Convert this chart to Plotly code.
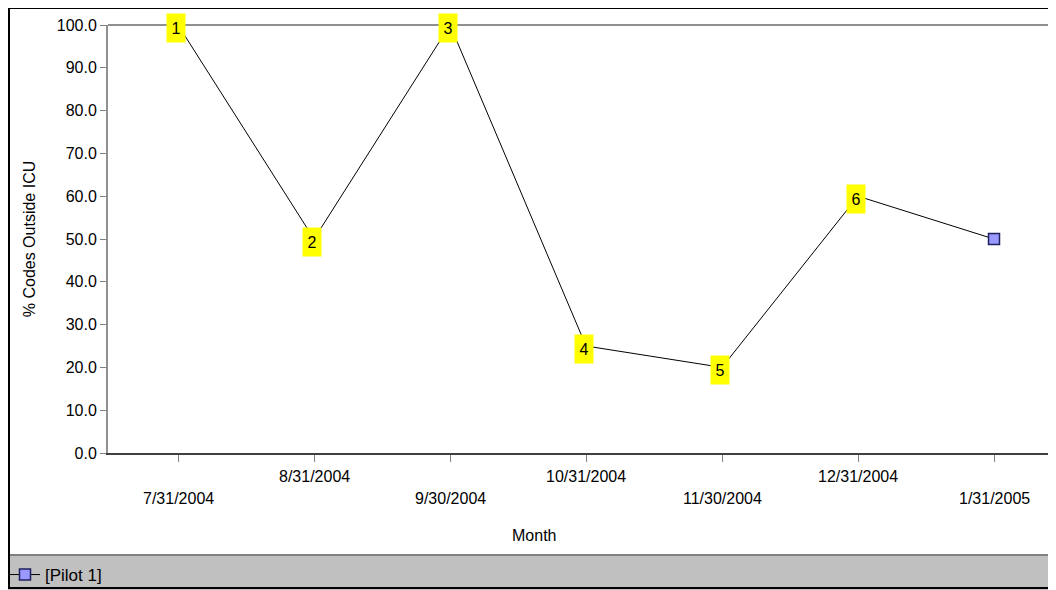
import plotly.graph_objects as go

months = ["7/31/2004", "8/31/2004", "9/30/2004", "10/31/2004", "11/30/2004", "12/31/2004", "1/31/2005"]
values = [100.0, 50.0, 100.0, 25.0, 20.0, 60.0, 50.0]
point_labels = ["1", "2", "3", "4", "5", "6", ""]
y_ticks = [0, 10, 20, 30, 40, 50, 60, 70, 80, 90, 100]
series_name = "[Pilot 1]"

# page body has an 8px margin; work in reference-screen pixel coordinates
OFF = 8
W, H = 1056 - OFF, 590 - OFF
PL, PR, PT, PB = 108, 1056, 25, 453  # plot area in screen pixels
L, T = PL - OFF, PT - OFF
R = 0
B = H - (PB - OFF)
pw, ph = W - L - R, H - T - B

def px_x(p):
    return (p - PL) / pw

def px_y(p):
    return (PB - p) / ph

FONT = "Liberation Sans, Arial, sans-serif"
FS = 16
xs = list(range(len(months)))

fig = go.Figure()
fig.add_trace(go.Scatter(
    x=xs, y=values, mode="lines+markers", name=series_name,
    line=dict(color="black", width=1),
    marker=dict(symbol="square", size=11, color="#9999ff",
                line=dict(color="#202060", width=1.5)),
    showlegend=True,
))

annotations = []
for i, (x, v, lab) in enumerate(zip(xs, values, point_labels)):
    if lab:
        annotations.append(dict(
            x=x, y=v, xref="x", yref="y", text=lab, showarrow=False,
            bgcolor="#ffff00", width=16, height=26, xshift=-2, yshift=-3,
            font=dict(family=FONT, size=FS, color="black"),
        ))
# alternating category labels
for i, m in enumerate(months):
    annotations.append(dict(
        x=xs[i], y=0, xref="x", yref="y", text=m, showarrow=False,
        yshift=-23 if i % 2 == 1 else -45, yanchor="middle",
        font=dict(family=FONT, size=FS, color="black"),
    ))
annotations.append(dict(
    x=px_x(534), y=px_y(535), xref="paper", yref="paper", text="Month",
    showarrow=False, yanchor="middle",
    font=dict(family=FONT, size=FS, color="black"),
))

shapes = [
    # legend strip
    dict(type="rect", xref="paper", yref="paper", x0=px_x(8), x1=px_x(1060),
         y0=px_y(592), y1=px_y(555), fillcolor="#c0c0c0",
         line=dict(width=0), layer="below"),
    dict(type="line", xref="paper", yref="paper", x0=px_x(8), x1=px_x(1060),
         y0=px_y(555), y1=px_y(555), line=dict(color="#808080", width=2)),
    # top line at 100
    dict(type="line", xref="paper", yref="paper", x0=0, x1=1,
         y0=1, y1=1, line=dict(color="#909090", width=2)),
    # outer frame
    dict(type="rect", xref="paper", yref="paper", x0=px_x(9), x1=px_x(1062),
         y0=px_y(588), y1=px_y(8), line=dict(color="black", width=2)),
]

fig.update_layout(
    width=W, height=H,
    margin=dict(l=L, r=R, t=T, b=B, autoexpand=False),
    paper_bgcolor="white", plot_bgcolor="white",
    font=dict(family=FONT, size=FS, color="black"),
    xaxis=dict(
        range=[-0.515, (1056 - 178) / 136.0], tickvals=xs, showticklabels=False,
        showgrid=False, zeroline=False, showline=True, linecolor="#404040",
        linewidth=2, ticks="outside", ticklen=7, tickcolor="#808080",
        fixedrange=True,
    ),
    yaxis=dict(
        range=[0, 100], tickvals=y_ticks,
        ticktext=[f"{v:.1f}" for v in y_ticks],
        showgrid=False, zeroline=False, showline=True, linecolor="#909090",
        linewidth=2, ticks="outside", ticklen=6, tickcolor="#808080",
        title=dict(text="% Codes Outside ICU", standoff=17,
                   font=dict(family=FONT, size=FS)),
        tickfont=dict(family=FONT, size=FS),
    ),
    legend=dict(x=px_x(5), y=px_y(575), xanchor="left", yanchor="middle",
                bgcolor="rgba(0,0,0,0)", font=dict(family=FONT, size=17),
                itemwidth=30),
    showlegend=True,
    annotations=annotations,
    shapes=shapes,
)

fig.write_html("out.html")
